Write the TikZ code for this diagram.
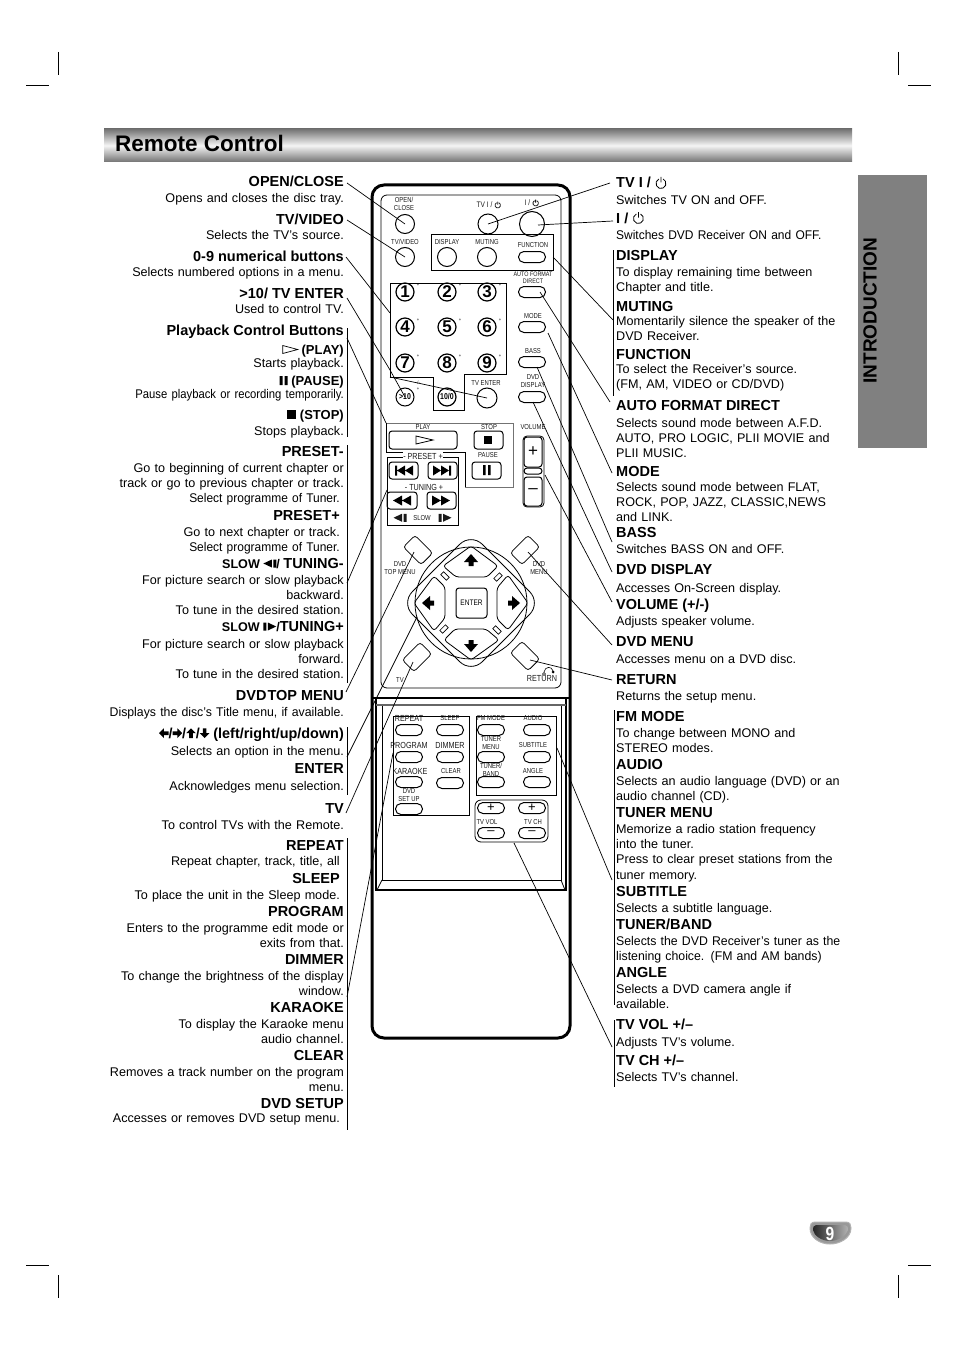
\documentclass[tikz,border=0pt]{standalone}
\usepackage{fontspec}
\setmainfont{Liberation Sans}
\newfontfamily\keyfont[FakeStretch=0.82]{Liberation Sans}
\newfontfamily\pausefont[FakeStretch=0.895]{Liberation Sans}
\newfontfamily\tightfont[FakeStretch=0.95]{Liberation Sans}
\newfontfamily\slimfont[FakeStretch=0.975]{Liberation Sans}

\definecolor{tabgray}{HTML}{808080}
\definecolor{inkblack}{HTML}{1A1A1A}

\newcommand{\playmark}{\tikz[x=1pt,y=1pt,baseline=0pt]{\draw[line width=.7pt] (0,0.5)--(0,8.5)--(15,4.5)--cycle;}}
\newcommand{\pausemark}{\tikz[x=1pt,y=1pt,baseline=0pt]{\fill (0,0) rectangle (3,9) (5,0) rectangle (8,9);}}
\newcommand{\stopmark}{\tikz[x=1pt,y=1pt,baseline=0pt]{\fill (0,0) rectangle (9.5,9.5);}}
\newcommand{\slowback}{\tikz[x=1pt,y=1pt,baseline=0pt]{\fill (0,4.5)--(8.5,0.5)--(8.5,8.5)--cycle (10,0.5) rectangle (13,8.5);}}
\newcommand{\slowfwd}{\tikz[x=1pt,y=1pt,baseline=0pt]{\fill (0,0.5) rectangle (3,8.5) (4.5,0.5)--(4.5,8.5)--(13,4.5)--cycle;}}
\newcommand{\arrowmark}[1]{\tikz[x=1.2pt,y=1.2pt,baseline=0pt]{\fill[rotate around={#1:(4,4)}] (0,4)--(4,8)--(4,5.5)--(8,5.5)--(8,2.5)--(4,2.5)--(4,0)--cycle;}}
\newcommand{\powermark}[1][1]{\tikz[x=#1pt,y=#1pt,baseline=0pt]{\draw[line width=.8pt] (3.4,9) arc[start angle=115,end angle=425,radius=5] (5.5,5.5)--(5.5,11);}}
\newcommand{\rewglyph}{\fill (-9,0)--(0,-5)--(0,5)--cycle (0,0)--(9,-5)--(9,5)--cycle;}
\newcommand{\skipglyph}{\fill (-9,-5) rectangle (-7,5) (-7,0)--(1,-5)--(1,5)--cycle (1,0)--(9,-5)--(9,5)--cycle;}

\tikzset{
  headl/.style={anchor=base east, inner sep=0pt, font=\bfseries\fontsize{14.5}{16}\selectfont},
  headr/.style={anchor=base west, inner sep=0pt, font=\bfseries\fontsize{14.5}{16}\selectfont},
  markl/.style={headl, font=\bfseries\fontsize{13}{15}\selectfont},
  bodyl/.style={anchor=base east, yshift=.7pt, inner sep=0pt, text width=245pt, align=right, font=\fontsize{12.6}{15.3}\selectfont},
  bodyr/.style={anchor=base west, yshift=.7pt, inner sep=0pt, text width=245pt, align=left, font=\fontsize{12.6}{15.3}\selectfont},
  keylabel/.style={inner sep=0pt, align=center, text=inkblack, font=\keyfont\fontsize{7.2}{7.4}\selectfont},
  widelabel/.style={keylabel, font=\keyfont\fontsize{8.8}{9}\selectfont},
  roundkey/.style={draw, circle, inner sep=0pt, minimum size=19pt, line width=1pt},
  numkey/.style={roundkey, minimum size=18pt, line width=1.2pt, font=\bfseries\fontsize{17}{17}\selectfont},
  pillkey/.style={draw, rectangle, rounded corners=5.4pt, inner sep=0pt, minimum width=27pt, minimum height=11pt, line width=1pt},
  blockkey/.style={draw, rectangle, rounded corners=3pt, inner sep=0pt, line width=1pt},
  cornerkey/.style={draw, rectangle, rounded corners=3pt, inner sep=0pt, minimum width=25pt, minimum height=16.5pt, line width=.8pt},
  leadbar/.style={line width=.9pt},
  lead/.style={line width=.7pt},
  keybox/.style={line width=.8pt},
  cropmark/.style={line width=.7pt}
}

\begin{document}
\begin{tikzpicture}[x=1pt,y=-1pt]
  \useasboundingbox (0,0) rectangle (954,1351);

  % crop marks
  \draw[cropmark] (26,85) -- (49,85) (58,52) -- (58,75);
  \draw[cropmark] (908,85) -- (931,85) (898,52) -- (898,75);
  \draw[cropmark] (26,1265) -- (49,1265) (58,1275) -- (58,1298);
  \draw[cropmark] (908,1265) -- (931,1265) (898,1275) -- (898,1298);

  % title bar and side tab
  \shade[top color=black!55, bottom color=black!55, middle color=black!4] (104,129) rectangle (852,162);
  \node (title) [anchor=base west, inner sep=0pt, font=\bfseries\fontsize{22.5}{25}\selectfont] at (115,151.5) {Remote Control};
  \fill[tabgray] (858,175) rectangle (927,448);
  \node (tabtext) [rotate=90, inner sep=0pt, font=\bfseries\fontsize{19}{20}\selectfont] at (870,310.5) {INTRODUCTION};

  % page badge
  \path[fill=black!40, draw=black!30, line width=1pt] (815,1222) -- (846,1222) .. controls (850,1222) and (851,1225) .. (851,1228) .. controls (851,1238) and (840,1244) .. (830,1244) .. controls (820,1244) and (810,1238) .. (810,1228) .. controls (810,1225) and (811,1222) .. (815,1222) -- cycle;
  \shade[left color=black!85, right color=black!30] (816,1225) -- (845,1225) .. controls (848,1225) and (848,1228) .. (848,1230) .. controls (846,1236) and (838,1241) .. (830,1241) .. controls (822,1241) and (814,1236) .. (813,1230) .. controls (813,1228) and (813,1225) .. (816,1225) -- cycle;
  \node (pagenum) [inner sep=0pt, text=white, font=\keyfont\bfseries\fontsize{19}{19}\selectfont] at (830,1234) {9};

  % left column
  \node (hdopen) [headl] at (344,186) {OPEN/CLOSE};
  \node (txopen) [bodyl] at (344,203) {Opens and closes the disc tray.};
  \node (hdvideo) [headl] at (344,224) {TV/VIDEO};
  \node (txvideo) [bodyl] at (344,240) {Selects the TV’s source.};
  \node (hdnum) [headl] at (344,261) {0-9 numerical buttons};
  \node (txnum) [bodyl] at (344,277) {Selects numbered options in a menu.};
  \node (hdenter) [headl] at (344,298) {>10/ TV ENTER};
  \node (txenter) [bodyl] at (344,314) {Used to control TV.};
  \node (hdplayback) [headl] at (344,335) {Playback Control Buttons};
  \node (hdplay) [markl] at (344,354) {\playmark\ (PLAY)};
  \node (txplay) [bodyl] at (344,368) {Starts playback.};
  \node (hdpause) [markl] at (344,385) {\pausemark\ (PAUSE)};
  \node (txpause) [bodyl, font=\pausefont\fontsize{12.6}{15.3}\selectfont] at (344,399) {Pause playback or recording temporarily.};
  \node (hdstop) [markl] at (344,419) {\stopmark\ (STOP)};
  \node (txstop) [bodyl] at (344,436) {Stops playback.};
  \node (hdpresetm) [headl] at (344,456) {PRESET-};
  \node (txpresetm) [bodyl] at (344,473) {Go to beginning of current chapter or\\ track or go to previous chapter or track.};
  \node (txpresetn) [bodyl] at (340,503) {\tightfont Select programme of Tuner.};
  \node (hdpresetp) [headl] at (340,520) {PRESET+};
  \node (txpresetp) [bodyl] at (340,537) {Go to next chapter or track.\\ {\tightfont Select programme of Tuner.}};
  \node (hdtunem) [headl] at (344,568) {\fontsize{12.6}{15}\selectfont SLOW \slowback/ \fontsize{14.5}{16}\selectfont TUNING-};
  \node (txtunem) [bodyl] at (344,585) {For picture search or slow playback\\ backward.\\ To tune in the desired station.};
  \node (hdtunep) [headl] at (344,631) {\fontsize{12.6}{15}\selectfont SLOW \slowfwd/\fontsize{14.5}{16}\selectfont TUNING+};
  \node (txtunep) [bodyl] at (344,649) {For picture search or slow playback\\ forward.\\ To tune in the desired station.};
  \node (hdtop) [headl] at (344,700) {DVD\kern-3pt{} TOP MENU};
  \node (txtop) [bodyl] at (344,717) {\slimfont Displays the disc’s Title menu, if available.};
  \node (hdarrows) [headl, font=\bfseries\fontsize{14.4}{16}\selectfont] at (344,738) {\arrowmark{0}/\arrowmark{180}/\arrowmark{-90}/\arrowmark{90} (left/right/up/down)};
  \node (txarrows) [bodyl] at (344,756) {Selects an option in the menu.};
  \node (hdok) [headl] at (344,773) {ENTER};
  \node (txok) [bodyl] at (344,791) {Acknowledges menu selection.};
  \node (hdtv) [headl] at (344,813) {TV};
  \node (txtv) [bodyl] at (344,830) {To control TVs with the Remote.};
  \node (hdrepeat) [headl] at (344,850) {REPEAT};
  \node (txrepeat) [bodyl] at (340,866) {Repeat chapter, track, title, all};
  \node (hdsleep) [headl] at (340,883) {SLEEP};
  \node (txsleep) [bodyl] at (340,900) {To place the unit in the Sleep mode.};
  \node (hdprogram) [headl] at (344,916) {PROGRAM};
  \node (txprogram) [bodyl] at (344,933) {Enters to the programme edit mode or\\ exits from that.};
  \node (hddimmer) [headl] at (344,964) {DIMMER};
  \node (txdimmer) [bodyl] at (344,981) {To change the brightness of the display\\ window.};
  \node (hdkaraoke) [headl] at (344,1012) {KARAOKE};
  \node (txkaraoke) [bodyl] at (344,1029) {To display the Karaoke menu\\ audio channel.};
  \node (hdclear) [headl] at (344,1060) {CLEAR};
  \node (txclear) [bodyl] at (344,1077) {Removes a track number on the program\\ menu.};
  \node (hdsetup) [headl] at (344,1108) {DVD SETUP};
  \node (txsetup) [bodyl] at (340,1123) {Accesses or removes DVD setup menu.};

  % right column
  \node (hdtvpower) [headr] at (616,188) {TV I / \powermark};
  \node (txtvpower) [bodyr] at (616,205) {Switches TV ON and OFF.};
  \node (hdpower) [headr] at (616,223) {I / \powermark};
  \node (txpower) [bodyr] at (616,240) {\tightfont Switches DVD Receiver ON and OFF.};
  \node (hddisplay) [headr] at (616,260) {DISPLAY};
  \node (txdisplay) [bodyr] at (616,277) {To display remaining time between\\ Chapter and title.};
  \node (hdmuting) [headr] at (616,311) {MUTING};
  \node (txmuting) [bodyr] at (616,326) {Momentarily silence the speaker of the\\ DVD Receiver.};
  \node (hdfunction) [headr] at (616,359) {FUNCTION};
  \node (txfunction) [bodyr] at (616,374) {To select the Receiver’s source.\\ (FM, AM, VIDEO or CD/DVD)};
  \node (hdformat) [headr] at (616,410) {AUTO FORMAT DIRECT};
  \node (txformat) [bodyr] at (616,428) {Selects sound mode between A.F.D.\\ AUTO, PRO LOGIC, PLII MOVIE and\\ PLII MUSIC.};
  \node (hdmode) [headr] at (616,476) {MODE};
  \node (txmode) [bodyr] at (616,492) {Selects sound mode between FLAT,\\ ROCK, POP, JAZZ, CLASSIC,NEWS\\ and LINK.};
  \node (hdbass) [headr] at (616,537) {BASS};
  \node (txbass) [bodyr] at (616,554) {Switches BASS ON and OFF.};
  \node (hddvddisp) [headr] at (616,574) {DVD DISPLAY};
  \node (txdvddisp) [bodyr] at (616,593) {Accesses On-Screen display.};
  \node (hdvolume) [headr] at (616,609) {VOLUME (+/-)};
  \node (txvolume) [bodyr] at (616,626) {Adjusts speaker volume.};
  \node (hdmenu) [headr] at (616,646) {DVD MENU};
  \node (txmenu) [bodyr] at (616,664) {Accesses menu on a DVD disc.};
  \node (hdreturn) [headr] at (616,684) {RETURN};
  \node (txreturn) [bodyr] at (616,701) {Returns the setup menu.};
  \node (hdfm) [headr] at (616,721) {FM MODE};
  \node (txfm) [bodyr] at (616,738) {To change between MONO and\\ STEREO modes.};
  \node (hdaudio) [headr] at (616,769) {AUDIO};
  \node (txaudio) [bodyr] at (616,786) {Selects an audio language (DVD) or an\\ audio channel (CD).};
  \node (hdtuner) [headr] at (616,817) {TUNER MENU};
  \node (txtuner) [bodyr] at (616,834) {Memorize a radio station frequency\\ into the tuner.\\ Press to clear preset stations from the\\ tuner memory.};
  \node (hdsubtitle) [headr] at (616,896) {SUBTITLE};
  \node (txsubtitle) [bodyr] at (616,913) {Selects a subtitle language.};
  \node (hdband) [headr] at (616,929) {TUNER/BAND};
  \node (txband) [bodyr] at (616,946) {\slimfont Selects the DVD Receiver’s tuner as the\\ listening choice. (FM and AM bands)};
  \node (hdangle) [headr] at (616,977) {ANGLE};
  \node (txangle) [bodyr] at (616,994) {Selects a DVD camera angle if\\ available.};
  \node (hdtvvol) [headr] at (616,1029) {TV VOL +/–};
  \node (txtvvol) [bodyr] at (616,1047) {Adjusts TV’s volume.};
  \node (hdtvch) [headr] at (616,1065) {TV CH +/–};
  \node (txtvch) [bodyr] at (616,1082) {Selects TV’s channel.};

  % remote body
  \draw[line width=3pt, rounded corners=12pt] (372,185) rectangle (570,1038);
  \draw[line width=.8pt, rounded corners=6pt] (381,195) rectangle (561,688);
  \draw[line width=2.4pt] (372,698) -- (570,698);
  \draw[line width=1.6pt] (376,698) -- (376,890) -- (566,890) -- (566,698);
  \draw[line width=.8pt] (382,706) -- (382,880) -- (561,880) -- (561,706);
  \draw[line width=1.2pt, black!60] (376,705) -- (566,705);
  \draw[line width=.8pt] (377,890) -- (382,880) (565,890) -- (561,880);

  % top keys
  \node (keyopen) [roundkey] at (405,224) {};
  \node (keytv) [roundkey, minimum size=20pt] at (488,224) {};
  \node (keypower) [roundkey, minimum size=25pt] at (532,224) {};
  \node (keyvideo) [roundkey] at (405,257) {};
  \node (keydisplay) [roundkey] at (447,257) {};
  \node (keymuting) [roundkey] at (487,257) {};
  \node (keyfunction) [pillkey] at (532,257) {};
  \node (lbopen) [keylabel] at (404,204) {OPEN/\\CLOSE};
  \node (lbtv) [keylabel, font=\keyfont\fontsize{8}{8}\selectfont] at (489,205) {TV I / \powermark[.55]};
  \node (lbpower) [keylabel, font=\keyfont\fontsize{8}{8}\selectfont] at (532,203) {I / \powermark[.55]};
  \node (lbvideo) [keylabel] at (405,242) {TV/VIDEO};
  \node (lbdisplay) [keylabel] at (447,242) {DISPLAY};
  \node (lbmuting) [keylabel] at (487,242) {MUTING};
  \node (lbfunction) [keylabel] at (533,245) {FUNCTION};
  \draw[keybox] (431,234) rectangle (553,270);

  % number keys
  \foreach \digit/\xpos/\ypos in {1/405/292, 2/447/292, 3/487/292, 4/405/327, 5/447/327, 6/487/327, 7/405/363, 8/447/363, 9/487/363} {
    \node (num\digit) [numkey] at (\xpos,\ypos) {\digit};
    \node (plus\digit) [keylabel, font=\keyfont\fontsize{5}{5}\selectfont] at ({\xpos+13},{\ypos-7}) {+};
  }
  \draw[keybox] (390,283) -- (506,283) -- (506,374) -- (464,374) -- (464,410) -- (433,410) -- (433,377) -- (390,377) -- cycle;
  \node (keyten) [roundkey, minimum size=18pt, font=\keyfont\bfseries\fontsize{8.5}{9}\selectfont] at (405,397) {>10};
  \node (keyzero) [roundkey, minimum size=18pt, line width=1.2pt, font=\keyfont\bfseries\fontsize{8.5}{9}\selectfont] at (447,397) {10/0};
  \node (keyenter) [roundkey, minimum size=20pt] at (487,398) {};
  \node (plusten) [keylabel, font=\keyfont\fontsize{5}{5}\selectfont] at (418,389) {+};
  \node (lbslash) [keylabel, font=\keyfont\fontsize{5}{5}\selectfont] at (418,383) {-/-};
  \node (lbenter) [keylabel] at (486,383) {TV ENTER};

  % right hand pills
  \node (keyformat) [pillkey] at (532,292) {};
  \node (keymode) [pillkey] at (532,327) {};
  \node (keybass) [pillkey] at (532,362) {};
  \node (keydvddisp) [pillkey] at (532,397) {};
  \node (lbformat) [keylabel, font=\keyfont\fontsize{6.6}{7}\selectfont] at (533,278) {AUTO FORMAT\\DIRECT};
  \node (lbmode) [keylabel] at (533,316) {MODE};
  \node (lbbass) [keylabel] at (533,351) {BASS};
  \node (lbdvddisp) [keylabel] at (533,381) {DVD\\DISPLAY};

  % transport keys
  \draw[keybox, black!55] (386,423) -- (513,423) -- (513,487) -- (465,487);
  \draw[keybox] (386,423) -- (386,452) -- (465,452) -- (465,487);
  \coordinate (playcorner) at (386,423);
  \node (keyplay) [blockkey, minimum width=68pt, minimum height=18pt] at (423,440) {};
  \node (keystop) [blockkey, minimum width=29pt, minimum height=18pt] at (488.5,440) {};
  \node (keypause) [blockkey, minimum width=29pt, minimum height=17pt] at (486.5,470.5) {};
  \draw[line width=.8pt] (416,436) -- (416,444) -- (433,440) -- cycle;
  \fill (484,436) rectangle (492,444);
  \fill (483,465) rectangle (485.5,475) (488,465) rectangle (490.5,475);
  \node (lbplay) [keylabel] at (423,427) {PLAY};
  \node (lbstop) [keylabel] at (489,427) {STOP};
  \node (lbpause) [keylabel] at (488,455) {PAUSE};

  \draw[keybox] (387,457) rectangle (458,525);
  \node (keyprev) [blockkey, minimum width=29pt, minimum height=17pt] at (403.5,470.5) {};
  \node (keynext) [blockkey, minimum width=29pt, minimum height=17pt] at (442.5,470.5) {};
  \node (keyrew) [blockkey, minimum width=30pt, minimum height=17pt] at (402,500.5) {};
  \node (keyfwd) [blockkey, minimum width=29pt, minimum height=17pt] at (441.5,500.5) {};
  \begin{scope}[shift={(404,470.5)}] \skipglyph \end{scope}
  \begin{scope}[shift={(442,470.5)}, xscale=-1] \skipglyph \end{scope}
  \begin{scope}[shift={(402,500.5)}] \rewglyph \end{scope}
  \begin{scope}[shift={(441,500.5)}, xscale=-1] \rewglyph \end{scope}
  \node (lbpreset) [widelabel, fill=white, inner sep=.5pt] at (423,456) {- PRESET +};
  \node (lbtuning) [widelabel] at (424,487) {- TUNING +};
  \node (lbslow) [keylabel] at (422,518) {SLOW};
  \node (lbslowb) [keylabel] at (400,518) {\slowback};
  \node (lbslowf) [keylabel] at (445,518) {\slowfwd};

  % volume
  \draw[line width=.8pt, rounded corners=4pt] (523,436) rectangle (544,507);
  \node (keyplus) [blockkey, minimum width=18pt, minimum height=30pt, font=\fontsize{17}{17}\selectfont] at (533,452) {+};
  \node (keyvolmid) [pillkey, minimum width=18pt, minimum height=6pt, rounded corners=3pt] at (533,471) {};
  \node (keyminus) [blockkey, minimum width=18pt, minimum height=29pt, font=\fontsize{17}{17}\selectfont] at (533,491.5) {–};
  \node (lbvolume) [keylabel] at (533,427) {VOLUME};

  % navigation pad
  \draw[line width=.8pt] (471,603) circle (56);
  \draw[line width=.8pt, rounded corners=16pt] (471,533) -- (541,603) -- (471,673) -- (401,603) -- cycle;
  \foreach \ang in {0,90,180,270} {
    \begin{scope}[shift={(471,603)}, rotate=\ang]
      \draw[line width=.8pt, fill=white, rounded corners=3pt] (-28,-37) -- (0,-57) -- (27,-37) -- (16,-26) -- (-15,-26) -- cycle;
      \fill (0,-49) -- (7,-41) -- (2.5,-41) -- (2.5,-37) -- (-2.5,-37) -- (-2.5,-41) -- (-7,-41) -- cycle;
      \draw[line width=.6pt, fill=white, rotate around={-45:(-26,-27)}] (-30,-29) rectangle (-22,-25);
    \end{scope}
  }
  \node (keyok) [blockkey, minimum width=31pt, minimum height=30pt, font=\keyfont\fontsize{8}{8}\selectfont] at (471.5,603) {ENTER};
  \node (keytop) [cornerkey, rotate=-45] at (418,550) {};
  \node (keymenu) [cornerkey, rotate=45] at (525,550) {};
  \node (keytvmode) [cornerkey, rotate=45] at (417,657) {};
  \node (keyreturn) [cornerkey, rotate=-45] at (525,656) {};
  \node (lbtop) [keylabel] at (400,568) {DVD\\TOP MENU};
  \node (lbmenu) [keylabel] at (539,568) {DVD\\MENU};
  \node (lbtvmode) [keylabel] at (400,680) {TV};
  \node (lbreturn) [widelabel] at (542,679) {RETURN};
  \draw[line width=.6pt] (544,672) .. controls (545,666) and (552,666) .. (553,671) (544,674) circle (1.5);
  \fill (553,672) circle (1.5);

  % lower panel keys
  \draw[keybox] (393,716) rectangle (469,815);
  \draw[keybox] (476,716) rectangle (556,795);
  \draw[keybox, rounded corners=6pt] (475,800) rectangle (548,842);
  \node (keyrepeat) [pillkey] at (409,730) {};
  \node (keysleep) [pillkey] at (450,730) {};
  \node (keyprogram) [pillkey] at (409,757) {};
  \node (keydimmer) [pillkey] at (450,757) {};
  \node (keykaraoke) [pillkey] at (409,782) {};
  \node (keyclear) [pillkey] at (450,783) {};
  \node (keysetup) [pillkey] at (409,809) {};
  \node (keyfm) [pillkey] at (491,730) {};
  \node (keyaudio) [pillkey] at (537,730) {};
  \node (keytuner) [pillkey] at (491,757) {};
  \node (keysubtitle) [pillkey] at (537,757) {};
  \node (keyband) [pillkey] at (491,782) {};
  \node (keyangle) [pillkey] at (537,782) {};
  \node (keyvolup) [pillkey, font=\fontsize{13}{13}\selectfont] at (491,808) {+};
  \node (keychup) [pillkey, font=\fontsize{13}{13}\selectfont] at (532,808) {+};
  \node (keyvoldn) [pillkey, font=\fontsize{13}{13}\selectfont] at (491,833) {–};
  \node (keychdn) [pillkey, font=\fontsize{13}{13}\selectfont] at (532,833) {–};
  \node (lbrepeat) [widelabel] at (409,718) {REPEAT};
  \node (lbsleep) [keylabel] at (450,718) {SLEEP};
  \node (lbprogram) [widelabel] at (409,745) {PROGRAM};
  \node (lbdimmer) [widelabel] at (450,745) {DIMMER};
  \node (lbkaraoke) [widelabel] at (410,771) {KARAOKE};
  \node (lbclear) [keylabel] at (451,771) {CLEAR};
  \node (lbsetup) [keylabel] at (409,795) {DVD\\SET UP};
  \node (lbfm) [keylabel] at (491,718) {FM MODE};
  \node (lbaudio) [keylabel] at (533,718) {AUDIO};
  \node (lbtuner) [keylabel] at (491,743) {TUNER\\MENU};
  \node (lbsubtitle) [keylabel] at (533,745) {SUBTITLE};
  \node (lbband) [keylabel] at (491,770) {TUNER/\\BAND};
  \node (lbangle) [keylabel] at (533,771) {ANGLE};
  \node (lbtvvol) [keylabel] at (487,822) {TV VOL};
  \node (lbtvch) [keylabel] at (533,822) {TV CH};

  % bars beside the texts
  \draw[leadbar] (347,328) -- (347,437);
  \draw[leadbar] (347,445) -- (347,683);
  \draw[leadbar] (347,727) -- (347,795);
  \draw[leadbar] (347,838) -- (347,1130);
  \draw[leadbar] (613,250) -- (613,396);
  \draw[leadbar] (614,710) -- (614,1005);
  \draw[leadbar] (614,1020) -- (614,1087);

  % connector ends
  \coordinate (stopen) at (347,183);
  \coordinate (stvideo) at (347,220);
  \coordinate (stnum) at (346,257);
  \coordinate (endnum) at (390,313);
  \coordinate (stenter) at (347,298);
  \coordinate (midenter) at (390,370);
  \coordinate (branchenter) at (390,377);
  \coordinate (stplayback) at (347,338);
  \coordinate (stpreset) at (347,583);
  \coordinate (endpreset) at (387,490);
  \coordinate (sttop) at (346,692);
  \coordinate (endtop) at (414,552);
  \coordinate (starrows) at (347,757);
  \coordinate (endring) at (417,617);
  \coordinate (sttv) at (346,813);
  \coordinate (endtv) at (413,662);
  \coordinate (strepeat) at (347,997);
  \coordinate (endrepeat) at (393,753);
  \coordinate (sttvpower) at (610,183);
  \coordinate (stpower) at (613,221);
  \coordinate (endpower) at (538,225);
  \coordinate (stbox) at (613,320);
  \coordinate (endbox) at (553,257);
  \coordinate (stformat) at (610,402);
  \coordinate (endformat) at (540,292);
  \coordinate (stmode) at (612,473);
  \coordinate (endmode) at (548,333);
  \coordinate (stbass) at (612,542);
  \coordinate (endbass) at (537,367);
  \coordinate (stdvddisp) at (612,572);
  \coordinate (enddvddisp) at (533,402);
  \coordinate (stvolume) at (612,602);
  \coordinate (endvolume) at (545,475);
  \coordinate (stmenu) at (612,645);
  \coordinate (endmenu) at (528,552);
  \coordinate (streturn) at (612,680);
  \coordinate (endreturn) at (530,660);
  \coordinate (stfm) at (612,880);
  \coordinate (endfm) at (557,748);
  \coordinate (stch) at (612,1047);
  \coordinate (endch) at (514,843);

  % connectors
  \draw[lead] (stopen) -- (keyopen.center);
  \draw[lead] (stvideo) -- (keyvideo.center);
  \draw[lead] (stnum) -- (endnum);
  \draw[lead] (stenter) -- (midenter) -- (keyten.center);
  \draw[lead] (branchenter) -- (keyenter.center);
  \draw[lead] (stplayback) -- (playcorner);
  \draw[lead] (stpreset) -- (endpreset);
  \draw[lead] (sttop) -- (endtop);
  \draw[lead] (starrows) -- (endring);
  \draw[lead] (sttv) -- (endtv);
  \draw[lead] (strepeat) -- (endrepeat);
  \draw[lead] (sttvpower) -- (keytv.center);
  \draw[lead] (stpower) -- (endpower);
  \draw[lead] (stbox) -- (endbox);
  \draw[lead] (stformat) -- (endformat);
  \draw[lead] (stmode) -- (endmode);
  \draw[lead] (stbass) -- (endbass);
  \draw[lead] (stdvddisp) -- (enddvddisp);
  \draw[lead] (stvolume) -- (endvolume);
  \draw[lead] (stmenu) -- (endmenu);
  \draw[lead] (streturn) -- (endreturn);
  \draw[lead] (stfm) -- (endfm);
  \draw[lead] (stch) -- (endch);
\end{tikzpicture}
\end{document}
